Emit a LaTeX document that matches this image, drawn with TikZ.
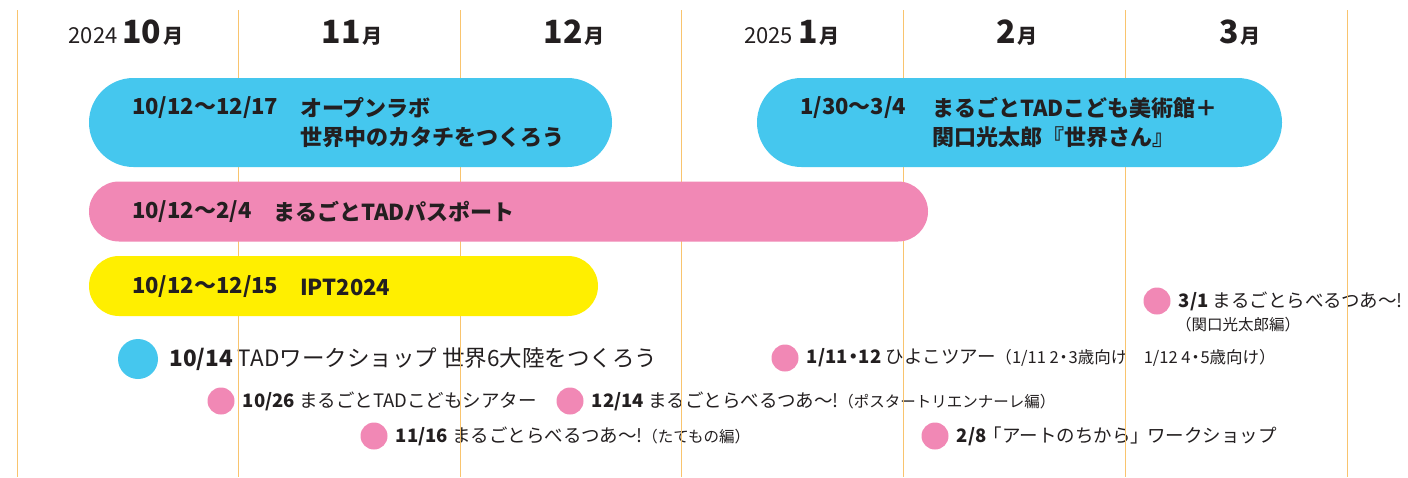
\documentclass[tikz,border=0pt]{standalone}
\usepackage{fontspec}
\setmainfont{Noto Sans CJK JP}
\usetikzlibrary{positioning}
\definecolor{tadblue}{HTML}{45C7EE}
\definecolor{tadpink}{HTML}{F188B5}
\definecolor{tadyellow}{HTML}{FFEF00}
\definecolor{gridorange}{HTML}{F9C46E}
\definecolor{ink}{HTML}{231F20}
\newcommand{\fsz}[1]{\fontsize{#1}{#1}\selectfont}
\newcommand{\nakaguro}{\kern-0.2em・\kern-0.2em}

\begin{document}
\begin{tikzpicture}[x=1pt,y=-1pt,
    twoline/.style={rectangle,inner sep=0pt,minimum height=89pt,rounded corners=44.5pt},
    oneline/.style={rectangle,inner sep=0pt,minimum height=60pt,rounded corners=30pt},
    bartext/.style={anchor=west,inner sep=0pt,text=ink,align=left,font=\fontsize{22}{29}\selectfont\bfseries},
    evtext/.style={inner sep=0pt,text=ink,font=\fsz{18.5}},
    bigdot/.style={circle,fill=tadblue,minimum size=40pt,inner sep=0pt},
    pinkdot/.style={circle,fill=tadpink,minimum size=27pt,inner sep=0pt},
    monthhead/.style={anchor=base,inner sep=0pt,text=ink},
    gridline/.style={gridorange,line width=0.9pt}]
    \useasboundingbox[fill=white] (0,0) rectangle (1408,477);

    % events
    \node[bigdot] (d1014) at (138,359) {};
    \node[evtext,font=\fsz{22.5},right=11pt of d1014] (t1014) {\textbf{10/14} TADワークショップ 世界6大陸をつくろう};
    \node[pinkdot] (d1026) at (221,401) {};
    \node[evtext,right=8pt of d1026] (t1026) {\textbf{10/26} まるごとTADこどもシアター};
    \node[pinkdot] (d1214) at (570,401) {};
    \node[evtext,right=8pt of d1214] (t1214) {\textbf{12/14} まるごとらべるつあ～!{\fsz{15.5}（ポスタートリエンナーレ編）}};
    \node[pinkdot] (d1116) at (374,436) {};
    \node[evtext,right=8pt of d1116] (t1116) {\textbf{11/16} まるごとらべるつあ～!{\fsz{15.5}（たてもの編）}};
    \node[pinkdot] (d0111) at (785,358) {};
    \node[evtext,right=8pt of d0111] (t0111) {\textbf{1/11\nakaguro 12} ひよこツアー{\fsz{16.5}（1/11 2\nakaguro 3歳向け\hspace{1em}1/12 4\nakaguro 5歳向け）}};
    \node[pinkdot] (d0208) at (935,436) {};
    \node[evtext,right=8pt of d0208] (t0208) {\textbf{2/8}\kern-0.15em「アートのちから」\kern-0.1em ワークショップ};
    \node[pinkdot] (d0301) at (1157,301) {};
    \node[evtext,right=8pt of d0301] (t0301) {\textbf{3/1} まるごとらべるつあ～!};
    \node[evtext,font=\fsz{15.5},anchor=west] (t0301b) at (1176,325) {（関口光太郎編）};

    % month grid
    \foreach \gx in {17,238,460,681,903,1125,1347}
        \draw[gridline] (\gx,10) -- (\gx,477);

    \node[monthhead] (m10) at (126,43) {{\fsz{22}2024}\hspace{5pt}{\bfseries\fsz{32}10}\hspace{2pt}{\bfseries\fsz{20}月}};
    \node[monthhead] (m11) at (352,43) {{\bfseries\fsz{32}11}\hspace{2pt}{\bfseries\fsz{20}月}};
    \node[monthhead] (m12) at (574,43) {{\bfseries\fsz{32}12}\hspace{2pt}{\bfseries\fsz{20}月}};
    \node[monthhead] (m01) at (792,43) {{\fsz{22}2025}\hspace{5pt}{\bfseries\fsz{32}1}\hspace{2pt}{\bfseries\fsz{20}月}};
    \node[monthhead] (m02) at (1017,43) {{\bfseries\fsz{32}2}\hspace{2pt}{\bfseries\fsz{20}月}};
    \node[monthhead] (m03) at (1240,43) {{\bfseries\fsz{32}3}\hspace{2pt}{\bfseries\fsz{20}月}};

    % bars
    \node[twoline,fill=tadblue,minimum width=523pt] (openlab) at (350.5,122.5) {};
    \node[bartext] (openlabdate) at (132,108) {10/12～12/17};
    \node[bartext] (openlabtitle) at (300,122.5) {オープンラボ\\世界中のカタチをつくろう};

    \node[twoline,fill=tadblue,minimum width=525pt] (museum) at (1019.5,122.5) {};
    \node[bartext] (museumdate) at (800,108) {1/30～3/4};
    \node[bartext] (museumtitle) at (932,122.5) {まるごとTADこども美術館＋\\関口光太郎『世界さん』};

    \node[oneline,fill=tadpink,minimum width=839pt] (passport) at (508.5,211.5) {};
    \node[bartext] (passportdate) at (132,212) {10/12～2/4};
    \node[bartext] (passporttitle) at (273,212) {まるごとTADパスポート};

    \node[oneline,fill=tadyellow,minimum width=509pt] (ipt) at (343.5,286) {};
    \node[bartext] (iptdate) at (132,287) {10/12～12/15};
    \node[bartext] (ipttitle) at (300,287) {IPT2024};
\end{tikzpicture}
\end{document}
